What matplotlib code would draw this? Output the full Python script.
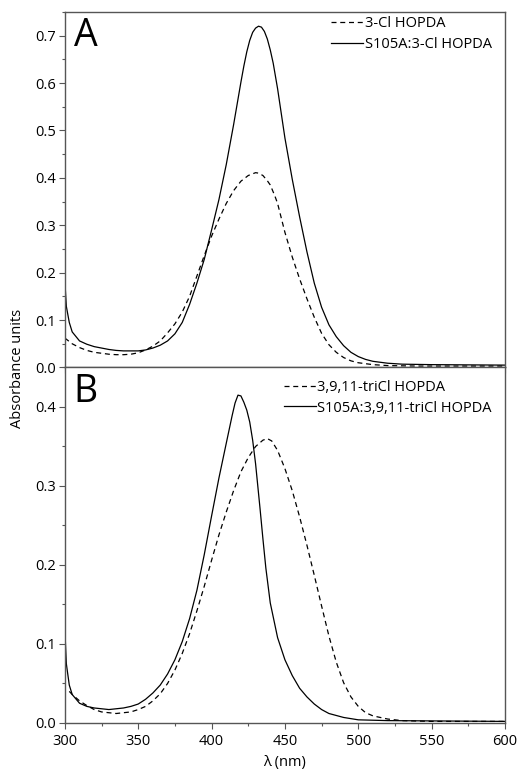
import matplotlib
matplotlib.use("Agg")
import matplotlib.pyplot as plt
from matplotlib.ticker import MultipleLocator

plt.rcParams["font.family"] = ["Open Sans", "DejaVu Sans"]

# Panel A: 3-Cl HOPDA
wl_a_free = [300, 305, 310, 315, 320, 325, 330, 335, 340, 345, 350, 355, 360, 365,
             370, 375, 380, 385, 390, 395, 400, 405, 410, 415, 420, 425, 430, 432,
             435, 438, 440, 443, 445, 450, 455, 460, 465, 470, 475, 480, 485, 490,
             495, 500, 510, 520, 540, 570, 600]
abs_a_free = [0.062, 0.050, 0.042, 0.036, 0.032, 0.030, 0.028, 0.027, 0.027, 0.028,
              0.031, 0.037, 0.045, 0.056, 0.073, 0.092, 0.117, 0.150, 0.193, 0.236,
              0.277, 0.313, 0.346, 0.373, 0.393, 0.405, 0.411, 0.410, 0.405, 0.394,
              0.385, 0.363, 0.346, 0.285, 0.233, 0.187, 0.145, 0.106, 0.072, 0.048,
              0.032, 0.021, 0.014, 0.010, 0.006, 0.004, 0.003, 0.003, 0.003]

wl_a_mut = [300, 301, 303, 305, 310, 315, 320, 325, 330, 335, 340, 345, 350, 355,
            360, 365, 370, 375, 380, 385, 390, 395, 400, 405, 410, 415, 420, 422,
            424, 426, 428, 430, 432, 434, 436, 438, 440, 442, 445, 450, 455, 460,
            465, 470, 475, 480, 485, 490, 495, 500, 505, 510, 520, 530, 550, 600]
abs_a_mut = [0.182, 0.129, 0.095, 0.075, 0.056, 0.049, 0.044, 0.041, 0.038, 0.036,
             0.035, 0.035, 0.035, 0.037, 0.041, 0.047, 0.056, 0.071, 0.095, 0.133,
             0.178, 0.228, 0.290, 0.354, 0.428, 0.512, 0.602, 0.636, 0.666, 0.690,
             0.707, 0.716, 0.720, 0.718, 0.709, 0.693, 0.670, 0.642, 0.588, 0.484,
             0.397, 0.318, 0.244, 0.178, 0.127, 0.090, 0.065, 0.046, 0.032, 0.023,
             0.017, 0.013, 0.009, 0.007, 0.006, 0.005]

# Panel B: 3,9,11-triCl HOPDA
wl_b_free = [303, 305, 310, 315, 320, 325, 330, 335, 340, 345, 350, 355, 360, 365,
             370, 375, 380, 385, 390, 395, 400, 405, 410, 415, 420, 425, 430, 435,
             438, 441, 445, 450, 455, 460, 465, 470, 475, 480, 485, 490, 495, 500,
             505, 510, 520, 530, 550, 600]
abs_b_free = [0.040, 0.036, 0.028, 0.022, 0.017, 0.014, 0.013, 0.012, 0.013, 0.014,
              0.017, 0.021, 0.028, 0.037, 0.050, 0.067, 0.088, 0.113, 0.142, 0.173,
              0.206, 0.238, 0.267, 0.294, 0.318, 0.336, 0.350, 0.358, 0.360, 0.357,
              0.345, 0.322, 0.294, 0.261, 0.225, 0.187, 0.148, 0.110, 0.077, 0.051,
              0.033, 0.021, 0.013, 0.009, 0.005, 0.003, 0.002, 0.002]

wl_b_mut = [300, 301, 303, 305, 310, 315, 320, 325, 330, 335, 340, 345, 350, 355,
            360, 365, 370, 375, 380, 385, 390, 395, 400, 405, 410, 414, 416, 418,
            420, 422, 424, 426, 428, 430, 433, 435, 437, 440, 445, 450, 455, 460,
            465, 470, 475, 480, 490, 500, 520, 600]
abs_b_mut = [0.118, 0.075, 0.048, 0.036, 0.025, 0.021, 0.019, 0.018, 0.017, 0.018,
             0.019, 0.021, 0.024, 0.030, 0.038, 0.048, 0.062, 0.080, 0.103, 0.132,
             0.168, 0.213, 0.262, 0.310, 0.354, 0.389, 0.405, 0.415, 0.414, 0.406,
             0.396, 0.381, 0.358, 0.328, 0.272, 0.233, 0.196, 0.152, 0.108, 0.080,
             0.060, 0.044, 0.033, 0.024, 0.017, 0.012, 0.007, 0.004, 0.003, 0.002]

panels = [
    ("A", wl_a_free, abs_a_free, "3-Cl HOPDA",
     wl_a_mut, abs_a_mut, "S105A:3-Cl HOPDA", 0.75,
     [0.0, 0.1, 0.2, 0.3, 0.4, 0.5, 0.6, 0.7], 1.0),
    ("B", wl_b_free, abs_b_free, "3,9,11-triCl HOPDA",
     wl_b_mut, abs_b_mut, "S105A:3,9,11-triCl HOPDA", 0.45,
     [0.0, 0.1, 0.2, 0.3, 0.4], 0.978),
]

fig, axes = plt.subplots(2, 1, figsize=(5.19, 7.73), dpi=100, sharex=True)
fig.subplots_adjust(left=0.125, right=0.973, top=0.9845, bottom=0.0647, hspace=0)

spine_col = "#555555"
for ax, (letter, x1, y1, lab1, x2, y2, lab2, ymax, yt, leg_y) in zip(axes, panels):
    ax.plot(x1, y1, color="black", lw=0.9, ls=(0, (4, 3)), label=lab1)
    ax.plot(x2, y2, color="black", lw=0.9, label=lab2)
    ax.set_xlim(300, 600)
    ax.set_ylim(0, ymax)
    ax.set_yticks(yt)
    ax.yaxis.set_minor_locator(MultipleLocator(0.05))
    ax.xaxis.set_major_locator(MultipleLocator(50))
    ax.xaxis.set_minor_locator(MultipleLocator(25))
    ax.tick_params(which="major", length=4.5, width=0.8, color=spine_col,
                   labelsize=10.5, pad=2)
    ax.tick_params(axis="x", which="major", pad=3.5)
    ax.tick_params(which="minor", length=2.5, width=0.8, color=spine_col)
    for s in ax.spines.values():
        s.set_color(spine_col)
        s.set_linewidth(1.0)
    ax.text(0.02, 0.985, letter, transform=ax.transAxes, fontsize=27,
            va="top", ha="left")
    ax.legend(loc="upper right", frameon=False, fontsize=10.5, handlelength=2.2,
              handletextpad=0.1, labelspacing=0.4, borderaxespad=0.1,
              borderpad=0.2, bbox_to_anchor=(0.98, leg_y))

axes[0].tick_params(axis="x", labelbottom=False)
axes[1].set_xlabel("λ (nm)", fontsize=10.5, labelpad=4)
fig.text(0.033, 0.524, "Absorbance units", rotation=90, fontsize=10.5,
         ha="center", va="center")

fig.savefig("out.png", dpi=100)
